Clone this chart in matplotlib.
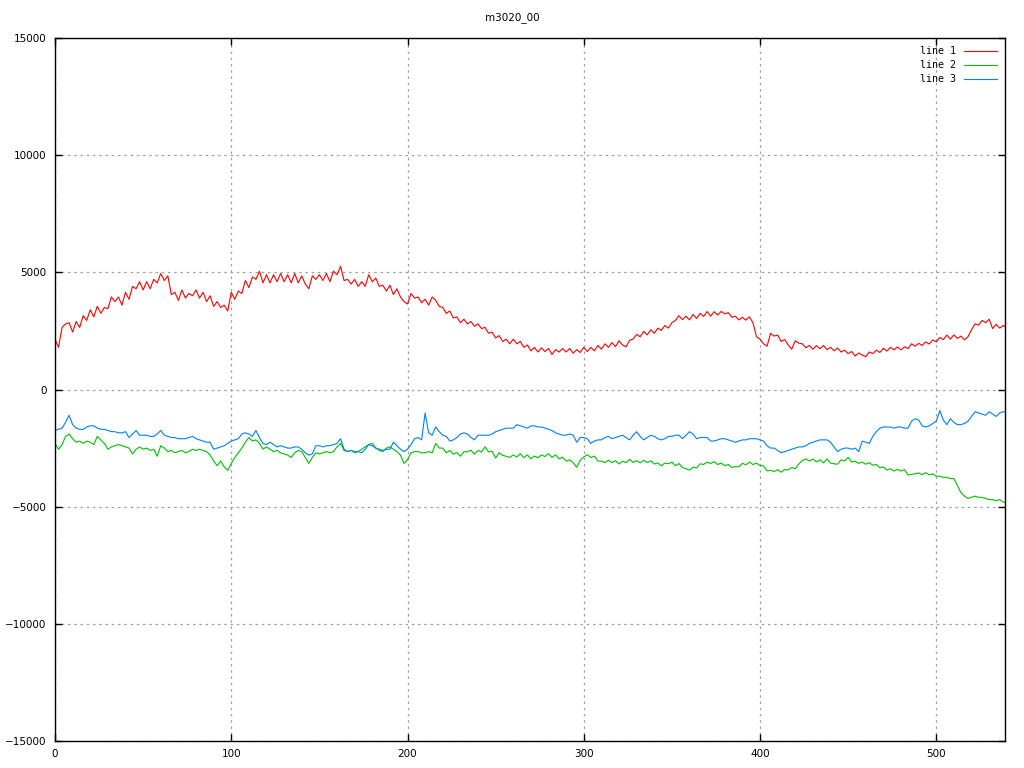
# plot.py - m3020_00 三条曲线 (gnuplot 风格)
import numpy as np
import matplotlib
matplotlib.use('Agg')
import matplotlib.pyplot as plt

# 数据: x 每隔 2 取一个点 (0..540)
x_step = 2
line1 = [
    2150, 1800, 2650, 2800, 2850, 2450, 2900, 2650, 3150, 2950,
    3400, 3100, 3550, 3250, 3500, 3450, 3950, 3750, 3950, 3600,
    4150, 3850, 4400, 4300, 4600, 4250, 4600, 4300, 4700, 4550,
    4950, 4650, 4850, 4050, 4150, 3800, 4250, 3900, 4100, 4000,
    4250, 3900, 4150, 3750, 4000, 3550, 3750, 3500, 3600, 3350,
    4150, 3850, 4200, 4100, 4650, 4350, 4800, 4700, 5050, 4550,
    4900, 4550, 4900, 4600, 4950, 4600, 4900, 4550, 4950, 4550,
    4850, 4500, 4300, 4850, 4700, 4900, 4650, 4950, 4600, 5050,
    4900, 5250, 4650, 4700, 4500, 4700, 4400, 4600, 4400, 4900,
    4600, 4750, 4400, 4450, 4200, 4450, 4050, 4300, 3950, 3750,
    3650, 4100, 3900, 3950, 3700, 3850, 3600, 3950, 3800, 3550,
    3500, 3250, 3350, 3050, 3100, 2850, 3000, 2800, 2900, 2700,
    2800, 2600, 2650, 2400, 2450, 2200, 2300, 2050, 2150, 1950,
    2150, 1950, 2050, 1800, 1900, 1650, 1800, 1600, 1780, 1620,
    1750, 1500, 1700, 1600, 1750, 1600, 1750, 1550, 1700, 1580,
    1800, 1620, 1800, 1650, 1880, 1720, 1950, 1800, 2000, 1830,
    2080, 1900, 1820, 2100, 2150, 2350, 2250, 2480, 2330, 2550,
    2400, 2620, 2520, 2730, 2620, 2850, 2950, 3150, 2980, 3130,
    2970, 3200, 3030, 3250, 3120, 3330, 3130, 3320, 3180, 3330,
    3230, 3280, 3080, 3130, 2970, 3080, 2960, 3100, 2850, 2250,
    2150, 1950, 1850, 2400, 2280, 2320, 2050, 2130, 1900, 1720,
    2080, 1980, 1950, 1780, 1880, 1720, 1870, 1740, 1880, 1700,
    1800, 1650, 1770, 1600, 1680, 1530, 1620, 1430, 1560, 1470,
    1400, 1600, 1530, 1680, 1580, 1760, 1640, 1800, 1690, 1820,
    1690, 1820, 1750, 1950, 1850, 1970, 1880, 2030, 1940, 2120,
    2030, 2220, 2130, 2320, 2150, 2330, 2180, 2280, 2120, 2250,
    2550, 2800, 2750, 2950, 2850, 3000, 2600, 2780, 2620, 2730,
    2650,
]
line2 = [
    -2300, -2550, -2350, -2000, -1900, -2100, -2250, -2200, -2300, -2200,
    -2250, -2350, -2000, -2150, -2300, -2550, -2450, -2400, -2350, -2400,
    -2450, -2500, -2750, -2550, -2450, -2550, -2500, -2600, -2550, -2850,
    -2400, -2500, -2650, -2600, -2700, -2650, -2600, -2700, -2650, -2550,
    -2600, -2550, -2600, -2650, -2800, -3050, -3250, -3050, -3300, -3450,
    -3150, -2900, -2700, -2500, -2250, -2050, -2200, -2150, -2300, -2550,
    -2450, -2550, -2650, -2600, -2700, -2750, -2800, -2900, -2700, -2600,
    -2650, -2900, -3150, -2900, -2700, -2750, -2700, -2650, -2700, -2650,
    -2450, -2300, -2600, -2650, -2600, -2700, -2650, -2550, -2450, -2350,
    -2300, -2500, -2600, -2650, -2500, -2450, -2550, -2650, -2800, -3150,
    -3000, -2700, -2650, -2650, -2700, -2700, -2650, -2700, -2300, -2500,
    -2500, -2700, -2600, -2760, -2690, -2850, -2650, -2660, -2590, -2760,
    -2600, -2670, -2450, -2660, -2640, -2930, -2700, -2810, -2850, -2900,
    -2790, -2880, -2740, -2910, -2790, -2960, -2840, -2910, -2790, -2860,
    -2740, -2900, -2790, -2960, -2890, -3060, -3000, -3130, -3320, -3020,
    -2880, -2780, -2900, -2840, -3050, -3060, -3120, -3020, -3120, -3040,
    -3180, -3060, -3120, -2980, -3110, -3040, -3130, -3020, -3120, -3040,
    -3180, -3130, -3260, -3140, -3170, -3100, -3250, -3160, -3330, -3380,
    -3440, -3320, -3350, -3170, -3200, -3100, -3160, -3080, -3200, -3140,
    -3250, -3200, -3330, -3290, -3300, -3150, -3210, -3100, -3200, -3140,
    -3250, -3260, -3470, -3450, -3500, -3420, -3530, -3420, -3430, -3330,
    -3380, -3180, -3030, -2960, -3050, -2970, -3090, -3000, -3130, -2960,
    -3140, -3170, -3190, -3000, -3050, -2900, -3090, -3060, -3150, -3100,
    -3190, -3120, -3230, -3200, -3340, -3300, -3440, -3380, -3480, -3410,
    -3480, -3420, -3650, -3620, -3600, -3560, -3630, -3550, -3640, -3600,
    -3700, -3700, -3750, -3750, -3800, -3800, -4100, -4400, -4550, -4650,
    -4600, -4550, -4600, -4600, -4650, -4700, -4700, -4750, -4700, -4800,
    -4850,
]
line3 = [
    -1750, -1700, -1650, -1400, -1100, -1500, -1650, -1700, -1700, -1600,
    -1550, -1550, -1650, -1700, -1700, -1750, -1800, -1800, -1850, -1850,
    -1800, -2050, -1900, -1750, -1950, -1950, -1950, -2000, -2000, -1900,
    -1750, -1950, -2000, -2050, -2050, -2100, -2100, -2100, -2050, -2000,
    -2100, -2150, -2200, -2250, -2250, -2550, -2500, -2450, -2400, -2300,
    -2200, -2150, -2100, -1900, -1850, -1900, -2000, -1750, -2050, -2300,
    -2350, -2250, -2350, -2450, -2400, -2450, -2500, -2500, -2450, -2450,
    -2550, -2700, -2800, -2750, -2400, -2400, -2450, -2400, -2400, -2350,
    -2300, -2100, -2550, -2650, -2600, -2650, -2650, -2700, -2550, -2350,
    -2400, -2500, -2550, -2600, -2550, -2550, -2250, -2400, -2550, -2650,
    -2550, -2350, -2100, -2050, -2150, -1000, -1850, -1950, -1600, -1800,
    -1950, -2000, -2200, -2150, -2050, -1900, -1850, -1900, -2050, -2150,
    -1950, -1950, -1950, -1950, -1900, -1800, -1750, -1700, -1650, -1650,
    -1650, -1500, -1550, -1600, -1650, -1550, -1550, -1600, -1600, -1650,
    -1700, -1750, -1850, -1900, -1950, -1950, -1900, -1950, -2250, -2050,
    -2050, -2100, -2300, -2200, -2150, -2150, -2050, -2000, -2100, -2050,
    -2000, -1950, -2050, -2150, -1950, -1800, -2000, -2150, -2050, -1950,
    -2000, -2100, -2150, -2100, -2000, -2000, -1950, -1950, -2100, -1950,
    -1800, -1900, -2100, -2050, -2050, -2050, -2200, -2200, -2150, -2100,
    -2100, -2150, -2200, -2250, -2200, -2150, -2150, -2100, -2100, -2100,
    -2150, -2200, -2400, -2500, -2500, -2600, -2700, -2650, -2600, -2550,
    -2500, -2450, -2450, -2400, -2300, -2250, -2200, -2150, -2150, -2150,
    -2250, -2450, -2650, -2550, -2500, -2500, -2550, -2500, -2650, -2200,
    -2250, -2300, -2000, -1800, -1650, -1600, -1600, -1600, -1650, -1600,
    -1600, -1650, -1650, -1350, -1250, -1300, -1550, -1600, -1550, -1450,
    -1350, -900, -1300, -1500, -1250, -1400, -1500, -1500, -1450, -1350,
    -1150, -950, -1000, -1050, -1100, -950, -1050, -1150, -1000, -950,
    -950,
]
labels = ['line 1', 'line 2', 'line 3']
colors = ['#ff0000', '#00c000', '#0080ff']
x_ticks = [0, 100, 200, 300, 400, 500]
y_ticks = [-15000, -10000, -5000, 0, 5000, 10000, 15000]

for s in (line1, line2, line3):
    assert len(s) == 271, len(s)
x = np.arange(len(line1)) * x_step

fig = plt.figure(figsize=(10.24, 7.68), dpi=100)
ax = fig.add_axes([55 / 1024, 1 - 741 / 768, 950 / 1024, 703 / 768])

for s, lab, c in zip((line1, line2, line3), labels, colors):
    ax.plot(x, s, color=c, lw=0.8, label=lab)

ax.set_xlim(0, 539)
ax.set_ylim(-15000, 15000)
ax.set_xticks(x_ticks)
ax.set_yticks(y_ticks)
ax.tick_params(direction='in', length=5, width=1, top=True, right=True,
               labelsize=7.5, pad=6)
for sp in ax.spines.values():
    sp.set_linewidth(1)
ax.grid(True, color='#a0a0a0', linestyle=(0, (2, 3)), linewidth=0.9)

# 图例: 文字在左, 线在右, 无边框
leg = ax.legend(loc='upper right', frameon=False, markerfirst=False,
                handlelength=3.3, labelspacing=0.4, borderaxespad=0.4,
                prop={'family': 'DejaVu Sans Mono', 'size': 7.2})

fig.text(0.5, 1 - 18 / 768, 'm3020_00', ha='center', va='center', fontsize=7.5)

plt.savefig('out.png', dpi=100)
plt.close()
